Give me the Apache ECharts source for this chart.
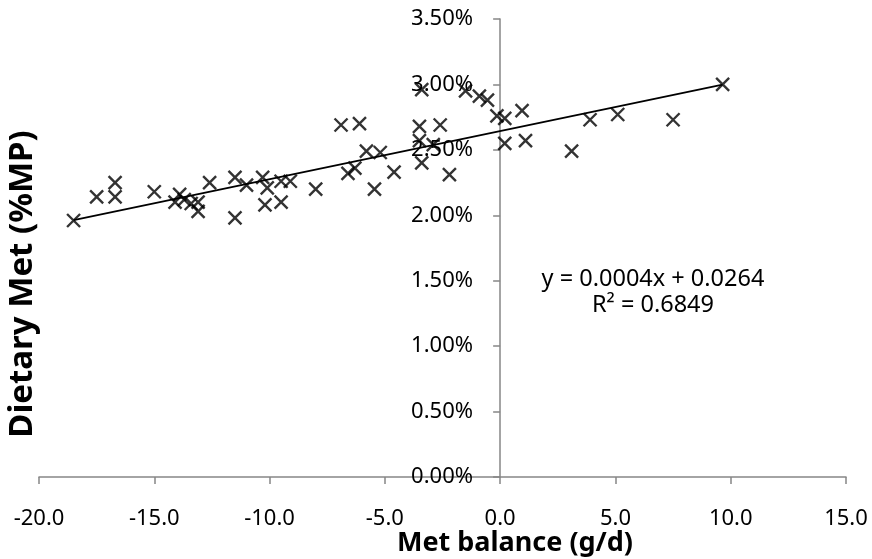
<!DOCTYPE html>
<html lang="en">
<head>
    <meta charset="UTF-8">
    <title>Dietary Met vs Met balance</title>
    <script src="https://cdn.jsdelivr.net/npm/echarts@6/dist/echarts.min.js"></script>
</head>
<body style="margin: 0; background: #fff;">
    <div id="graph" style="width: 872px; height: 559px;"></div>

    <script>
        // Met balance (g/d)
        var metBalance = [-18.5, -17.5, -16.7, -16.7, -15.0, -13.9, -14.1, -13.7, -13.4, -13.1,
            -13.1, -12.6, -11.5, -11.5, -11.0, -10.3, -10.1, -10.2, -9.5, -9.5,
            -9.1, -8.0, -6.9, -6.1, -5.8, -5.2, -4.6, -6.6, -6.3, -5.45,
            -3.4, -3.5, -2.6, -3.5, -2.9, -3.4, -2.2, -1.5, -0.9, -0.55,
            -0.14, 0.2, 0.2, 0.95, 1.1, 3.1, 3.9, 5.1, 7.5, 9.65];
        // Dietary Met (%MP), in percent
        var dietaryMet = [1.96, 2.14, 2.25, 2.14, 2.18, 2.16, 2.10, 2.12, 2.09, 2.10,
            2.03, 2.25, 1.98, 2.29, 2.23, 2.29, 2.21, 2.08, 2.10, 2.26,
            2.26, 2.20, 2.69, 2.70, 2.49, 2.48, 2.33, 2.32, 2.36, 2.20,
            2.96, 2.68, 2.69, 2.57, 2.54, 2.40, 2.31, 2.95, 2.91, 2.88,
            2.76, 2.74, 2.55, 2.80, 2.57, 2.49, 2.73, 2.77, 2.73, 3.00];
        // linear trendline as drawn (percent units)
        var trendSlope = 0.0368;
        var trendIntercept = 2.644;
        var equationText = 'y = 0.0004x + 0.0264\nR\u00b2 = 0.6849';

        var points = [];
        for (var i = 0; i < metBalance.length; i++) {
            points.push([metBalance[i], dietaryMet[i]]);
        }
        var xMin = Math.min.apply(null, metBalance);
        var xMax = Math.max.apply(null, metBalance);
        var trend = [
            [xMin, trendIntercept + trendSlope * xMin],
            [xMax, trendIntercept + trendSlope * xMax]
        ];

        var font = 'Noto Sans';
        var axisGrey = '#868686';

        var myChart = echarts.init(document.getElementById('graph'));
        var option = {
            animation: false,
            textStyle: { fontFamily: font },
            grid: {
                left: 39, right: 26, top: 19, bottom: 82,
                outerBoundsMode: 'none'
            },
            xAxis: {
                type: 'value',
                min: -20, max: 15, interval: 5,
                axisLine: { onZero: false, lineStyle: { color: axisGrey, width: 1.5 } },
                axisTick: { show: true, length: 7, lineStyle: { color: axisGrey, width: 1.5 } },
                axisLabel: {
                    fontSize: 22, color: '#000', margin: 31,
                    formatter: function (v) { return v.toFixed(1); }
                },
                splitLine: { show: false }
            },
            yAxis: {
                type: 'value',
                min: 0, max: 3.5, interval: 0.5,
                axisLine: { onZero: true, lineStyle: { color: axisGrey, width: 1.5 } },
                axisTick: { show: true, length: 7, lineStyle: { color: axisGrey, width: 1.5 } },
                axisLabel: {
                    // labels sit beside the axis line at x = 0, not at the grid edge
                    fontSize: 22, color: '#000', margin: -434,
                    formatter: function (v) { return v.toFixed(2) + '%'; }
                },
                splitLine: { show: false }
            },
            graphic: [{
                type: 'text',
                x: 653, y: 266,
                style: {
                    text: equationText,
                    font: '23.5px "Noto Sans"',
                    fill: '#000',
                    textAlign: 'center',
                    lineHeight: 26
                }
            }, {
                type: 'text',
                x: 515, y: 543,
                style: {
                    text: 'Met balance (g/d)',
                    font: 'bold 27px "Noto Sans"',
                    fill: '#000',
                    textAlign: 'center',
                    textVerticalAlign: 'middle'
                }
            }, {
                type: 'text',
                x: 23, y: 284,
                rotation: Math.PI / 2,
                style: {
                    text: 'Dietary Met (%MP)',
                    font: 'bold 33px "Noto Sans"',
                    fill: '#000',
                    textAlign: 'center',
                    textVerticalAlign: 'middle'
                }
            }],
            series: [
                {
                    type: 'line',
                    data: trend,
                    showSymbol: false,
                    silent: true,
                    lineStyle: { color: '#000', width: 1.8 },
                    z: 3
                },
                {
                    type: 'scatter',
                    data: points,
                    symbol: 'path://M0,0L10,10M10,0L0,10',
                    symbolSize: 13,
                    itemStyle: { color: '#000', borderColor: '#000', borderWidth: 2.4 },
                    emphasis: { disabled: true },
                    z: 4
                }
            ]
        };
        myChart.setOption(option);
    </script>
</body>
</html>
